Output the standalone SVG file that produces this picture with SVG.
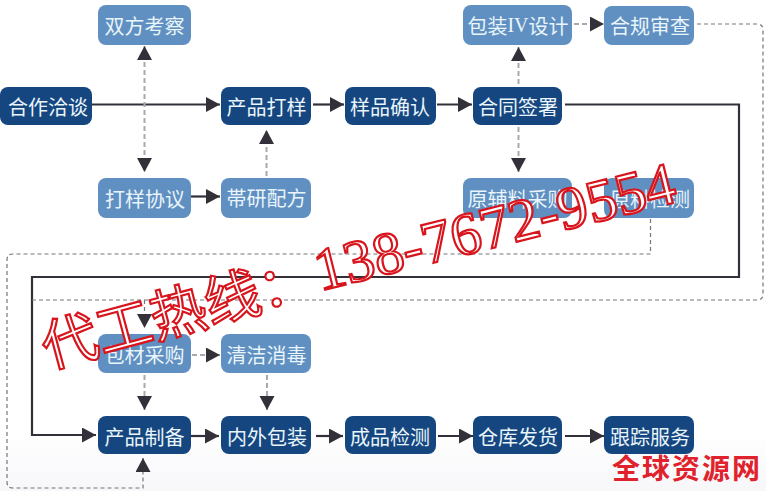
<svg xmlns="http://www.w3.org/2000/svg" width="766" height="491" viewBox="0 0 766 491">
<style>
.n text{font-family:"Noto Sans CJK SC","Noto Sans",sans-serif;font-size:20px;fill:#e9f5fb;text-anchor:middle;dominant-baseline:central}
.d rect{fill:#15467f}
.l rect{fill:#6090c1}
.s{fill:none;stroke:#333039;stroke-width:2.2}
.g{fill:none;stroke:#a9a8ae;stroke-width:2;stroke-dasharray:5 3}
.t{fill:none;stroke:#77767c;stroke-width:1.2;stroke-dasharray:4 3}
.wm{font-family:"Noto Sans CJK SC",sans-serif;fill:#fff;stroke:#d8141c;stroke-width:2.2}
.num{font-family:"Liberation Serif",serif;fill:#fff;stroke:#d8141c;stroke-width:2.2}
</style>
<defs>
<marker id="a" markerUnits="userSpaceOnUse" markerWidth="15" markerHeight="16" refX="14" refY="7.500" orient="auto-start-reverse"><path d="M0 0L14 7.500L0 15Z" fill="#333039"/></marker>
<linearGradient id="bg" x1="0" y1="0" x2="0" y2="1"><stop offset="0" stop-color="#fff"/><stop offset=".88" stop-color="#fff"/><stop offset="1" stop-color="#f7f6f9"/></linearGradient>
</defs>
<rect width="766" height="491" fill="url(#bg)"/>
<g id="connectors">
<path class="s" d="M92 104.500H220" marker-end="url(#a)"/>
<path class="s" d="M313 104.500H344" marker-end="url(#a)"/>
<path class="s" d="M437 104.500H472" marker-end="url(#a)"/>
<path class="s" d="M191 196.500H220" marker-end="url(#a)"/>
<path class="s" d="M565 104.500H739V277H32V435H96" marker-end="url(#a)"/>
<path class="s" d="M191 436H219" marker-end="url(#a)"/>
<path class="s" d="M316 436H343" marker-end="url(#a)"/>
<path class="s" d="M438 436H473" marker-end="url(#a)"/>
<path class="s" d="M565 436H604" marker-end="url(#a)"/>
<path class="g" d="M144.500 46V172" marker-start="url(#a)" marker-end="url(#a)"/>
<path class="g" d="M266.500 176V130" marker-end="url(#a)"/>
<path class="g" d="M518.500 47V172" marker-start="url(#a)" marker-end="url(#a)"/>
<path class="g" d="M574 24H604" marker-end="url(#a)"/>
<path class="g" d="M192 355H220" marker-end="url(#a)"/>
<path class="g" d="M144.500 375V410" marker-end="url(#a)"/>
<path class="g" d="M267 375V410" marker-end="url(#a)"/>
<path class="t" d="M697 24H757Q763 24 763 30V294Q763 300 757 300H32"/>
<path class="t" d="M144.500 300V328" marker-end="url(#a)"/>
<path class="t" d="M650.500 219V254H13Q7 254 7 260V482Q7 488 13 488H143V458" marker-end="url(#a)"/>
</g>
<g id="n1" class="n l"><rect x="98" y="5" width="93" height="40" rx="8"/><text x="144.500" y="25">双方考察</text></g>
<g id="n2" class="n d"><rect x="0" y="87" width="92" height="38" rx="8"/><text x="48" y="106">合作洽谈</text></g>
<g id="n3" class="n d"><rect x="221" y="87" width="90" height="38" rx="8"/><text x="266.500" y="106">产品打样</text></g>
<g id="n4" class="n d"><rect x="345" y="87" width="91" height="38" rx="8"/><text x="390" y="106">样品确认</text></g>
<g id="n5" class="n d"><rect x="473" y="87" width="89" height="38" rx="8"/><text x="518" y="106">合同签署</text></g>
<g id="n6" class="n l"><rect x="463" y="5" width="109" height="40" rx="8"/><text x="518" y="25">包装<tspan font-family="Liberation Serif">IV</tspan>设计</text></g>
<g id="n7" class="n l"><rect x="604" y="6" width="90" height="39" rx="8"/><text x="650" y="25">合规审查</text></g>
<g id="n8" class="n l"><rect x="98" y="178" width="93" height="40" rx="8"/><text x="145" y="198">打样协议</text></g>
<g id="n9" class="n l"><rect x="221" y="178" width="90" height="40" rx="8"/><text x="266.500" y="197">帯研配方</text></g>
<g id="n10" class="n l"><rect x="463" y="178" width="109" height="40" rx="8"/><text x="517.500" y="198">原辅料采购</text></g>
<g id="n11" class="n l"><rect x="604" y="178" width="90" height="40" rx="8"/><text x="650" y="198">原料检测</text></g>
<g id="n12" class="n l"><rect x="98" y="334" width="93" height="39" rx="8"/><text x="144.500" y="354">包材采购</text></g>
<g id="n13" class="n l"><rect x="221" y="334" width="90" height="39" rx="8"/><text x="266.500" y="354">清洁消毒</text></g>
<g id="n14" class="n d"><rect x="98" y="416" width="93" height="38" rx="8"/><text x="144.500" y="436">产品制备</text></g>
<g id="n15" class="n d"><rect x="221" y="416" width="90" height="38" rx="8"/><text x="267" y="436">内外包装</text></g>
<g id="n16" class="n d"><rect x="345" y="416" width="91" height="38" rx="8"/><text x="390" y="436">成品检测</text></g>
<g id="n17" class="n d"><rect x="473" y="416" width="89" height="38" rx="8"/><text x="518" y="436">仓库发货</text></g>
<g id="n18" class="n d"><rect x="604" y="416" width="90" height="38" rx="8"/><text x="650" y="436">跟踪服务</text></g>
<text class="wm" transform="translate(48 368) rotate(-15)" font-size="56">代工热线：</text>
<text class="num" transform="translate(320 291) rotate(-14)" font-size="60">138-7672-9554</text>
<text x="612" y="479" font-family="Noto Sans CJK SC,sans-serif" font-weight="700" font-size="28" letter-spacing="2" fill="#e0222c">全球资源网</text>
</svg>
